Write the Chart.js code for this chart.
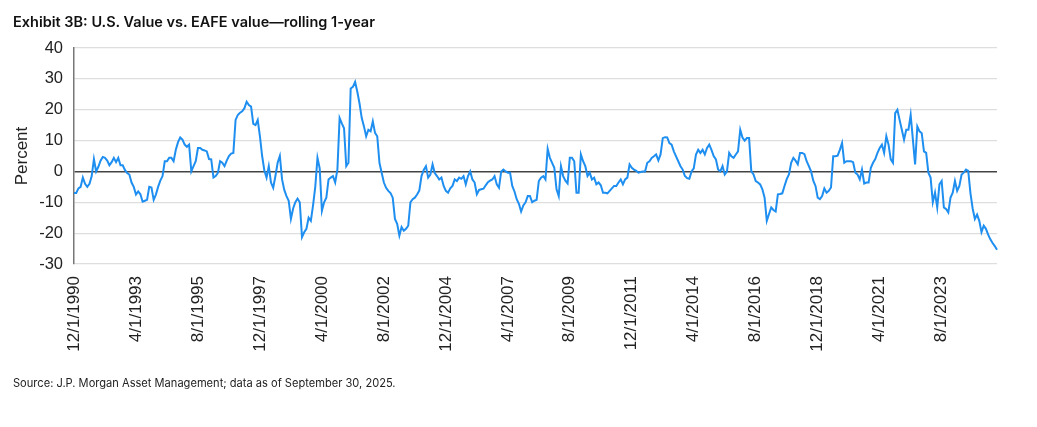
<!DOCTYPE html>
<html>
<head>
<meta charset="utf-8">
<script src="https://cdn.jsdelivr.net/npm/chart.js@4.4.1/dist/chart.umd.min.js"></script>
<style>
  html, body { margin: 0; padding: 0; background: #fff; }
  #wrap { position: relative; width: 1037px; height: 427px; overflow: hidden; }
  #chart { position: absolute; left: 0; top: 0; }
  .title { position: absolute; left: 13px; top: 13px; font: 600 14.5px "Inter", sans-serif; color: #111; white-space: nowrap; }
  .source { position: absolute; left: 13px; top: 376px; font: 400 11.1px "Inter", sans-serif; color: #222; white-space: nowrap; }
</style>
</head>
<body>
<div id="wrap">
  <canvas id="chart" width="1037" height="427"></canvas>
  <div class="title">Exhibit 3B: U.S. Value vs. EAFE value—rolling 1-year</div>
  <div class="source">Source: J.P. Morgan Asset Management; data as of September 30, 2025.</div>
</div>
<script>
// first month of the series and number of monthly points
var startYear = 1990, startMonth = 12, monthCount = 418;

// labels shown on the x axis
var tickLabels = ["12/1/1990", "4/1/1993", "8/1/1995", "12/1/1997", "4/1/2000",
  "8/1/2002", "12/1/2004", "4/1/2007", "8/1/2009", "12/1/2011", "4/1/2014",
  "8/1/2016", "12/1/2018", "4/1/2021", "8/1/2023"];

// y axis ticks
var yTicks = [-30, -20, -10, 0, 10, 20, 30, 40];

// rolling 1-year relative return, U.S. value minus EAFE value (percent)
var relReturn = [
  -7, -7, -5.5, -5, -2, -4, -5, -4, -1.5, 4,
  0, 1.5, 3.5, 4.7, 4.4, 3.5, 2, 3, 4.4, 3,
  4.4, 2, 2, 0.5, -0.5, -1, -3.6, -5, -7.5, -6.5,
  -7.4, -9.8, -9.5, -9.2, -5, -5.2, -9.2, -7.5, -5, -3,
  -1.5, 3.3, 3.3, 4.4, 4.4, 3.3, 7, 9.5, 11, 10.3,
  8.7, 8, 8.7, 0, 1.7, 3.3, 7.6, 7.6, 7, 6.8,
  6.5, 4, 3.9, -2, -1.5, -0.5, 3.3, 2.8, 1.7, 3.5,
  5, 5.8, 6, 16.7, 18.3, 19, 19.5, 20.5, 22.6, 21.5,
  21, 15.4, 15, 16.7, 11.4, 5, 0.3, -2, 1.7, -3.6,
  -5.3, -1.5, 2.8, 5, -2.6, -6, -8, -9.5, -15.4, -12,
  -10, -8.8, -10, -21.3, -19.7, -18.6, -15, -16, -11, -5,
  4.4, 1, -12.8, -10, -8.5, -2.6, -2, -1.5, -3.6, 0.6,
  17.3, 15.6, 14, 1.7, 2.8, 26.9, 27.4, 29, 25.8, 22,
  17.3, 14.6, 11.4, 13.5, 13, 16.2, 12.5, 11.4, 2.8, -0.4,
  -3.6, -5.3, -6.3, -7, -8.5, -15.4, -17, -20.8, -18, -19.2,
  -18.6, -17.6, -10, -9, -8.5, -7.5, -6.2, -1.5, 0.5, 1.7,
  -2, -1, 2.3, -0.5, -1.5, -2.6, -2, -4.7, -6.3, -6.9,
  -5.5, -4.7, -2.6, -3.1, -2, -2.4, -1.5, -4.2, -1.5, 0,
  -2.6, -3.6, -7.4, -6, -5.8, -5.6, -4.5, -3.5, -3, -2.6,
  -1.5, -4.2, -5.3, 0, 0.6, 0, -0.4, -0.4, -4.7, -6.5,
  -9, -10.5, -13, -11, -10, -8, -8, -10, -9.5, -9.2,
  -3.1, -2, -1.5, -2.6, 7.3, 4.4, 2.8, 1.2, -5.8, -8,
  1.7, -1.5, -3, -3.9, 4.4, 4.4, 3.3, -6.9, -6.9, 5.5,
  3.3, 1.7, -1.5, -0.4, -2.6, -2, -4.2, -3.6, -4.5, -6.9,
  -6.9, -7.1, -6.3, -5.5, -4.7, -4.7, -3.6, -2.6, -4.2, -2.6,
  -2, 2.3, 1.2, 0.6, 0.2, -0.4, -0.2, 0, 0, 2.8,
  3.3, 4.4, 4.9, 5.5, 3.6, 5.5, 10.8, 11.1, 11, 9.2,
  8.7, 6.5, 4.9, 3.3, 1.7, 0.6, -1.5, -2.2, -2.4, 0,
  1, 5.5, 7, 6, 7, 5.5, 7.6, 8.7, 7, 5,
  3.9, 0.6, 0, 1.7, -1, 0, 6, 4.9, 4.4, 5.5,
  6.5, 13.5, 11, 10, 10.8, 10.8, 0, -1, -3.1, -3.6,
  -4.2, -5.8, -8.5, -16, -13.8, -11.7, -12.5, -13, -7.4, -7.3,
  -7.1, -4.7, -2.5, -1, 2.8, 4.4, 3.5, 2.3, 6, 6,
  5.6, 3.3, 1.7, 0, -3, -4.7, -8.5, -9, -8, -5.5,
  -6.9, -6.3, -5.2, 4.9, 4.9, 5.1, 7, 9.2, 2.8, 3.3,
  3.3, 3.3, 3, -0.4, -1, -2.6, 0.6, -3.9, -3.6, -3.6,
  1.2, 2.8, 4, 6, 7.6, 8.7, 6, 11.4, 8.7, 3.9,
  2.8, 18.9, 20, 16.7, 13.5, 10.3, 13.5, 13.5, 18.3, 10.3,
  2.3, 14.6, 13, 12.4, 6.5, 6, -0.4, -2, -10, -6.9,
  -11.7, -4.2, -3.1, -11.7, -12.2, -13.3, -8.5, -6.9, -3.1, -6.3,
  -4.7, -1, -0.4, 0.6, 0.2, -7, -12, -15.4, -14, -16,
  -19.7, -17.6, -18.6, -20.5, -22, -23.2, -24.2, -25.4
];

// month labels like 12/1/1990
var months = [];
for (var i = 0; i < monthCount; i++) {
  var m = (startMonth - 1 + i) % 12 + 1;
  var y = startYear + Math.floor((startMonth - 1 + i) / 12);
  months.push(m + "/1/" + y);
}

var tickFont = { family: "'Liberation Sans', Arial, sans-serif", size: 17 };

new Chart(document.getElementById("chart"), {
  type: "line",
  data: {
    labels: months,
    datasets: [{
      label: "U.S. Value vs. EAFE value",
      data: relReturn,
      borderColor: "#1e8ff0",
      borderWidth: 2,
      pointRadius: 0,
      tension: 0,
      fill: false
    }]
  },
  options: {
    responsive: false,
    animation: false,
    layout: { padding: { top: 48, right: 40, bottom: 0, left: 0 } },
    plugins: { legend: { display: false }, tooltip: { enabled: false } },
    scales: {
      x: {
        type: "category",
        offset: false,
        grid: { display: false },
        border: { display: false },
        afterFit: function(axis) { axis.height = 163; },
        ticks: {
          autoSkip: false,
          maxRotation: 90,
          minRotation: 90,
          padding: 4,
          color: "#222",
          font: tickFont,
          callback: function(value) {
            var lab = this.getLabelForValue(value);
            return tickLabels.indexOf(lab) >= 0 ? lab : "";
          }
        }
      },
      y: {
        min: -30,
        max: 40,
        afterFit: function(axis) { axis.width = 74; },
        afterBuildTicks: function(axis) {
          axis.ticks = yTicks.map(function(v) { return { value: v }; });
        },
        border: { display: true, color: "#777", width: 1.5 },
        grid: {
          drawTicks: false,
          color: function(ctx) { return ctx.tick && ctx.tick.value === 0 ? "#444" : "#dedede"; },
          lineWidth: function(ctx) { return ctx.tick && ctx.tick.value === 0 ? 1.5 : 1.2; }
        },
        ticks: { padding: 11, color: "#222", font: { family: "'Liberation Sans', Arial, sans-serif", size: 16.5 } },
        title: {
          display: true,
          text: "Percent",
          color: "#222",
          font: { family: "'Liberation Sans', Arial, sans-serif", size: 17 },
          padding: { top: 12, bottom: 0 }
        }
      }
    }
  }
});
</script>
</body>
</html>
